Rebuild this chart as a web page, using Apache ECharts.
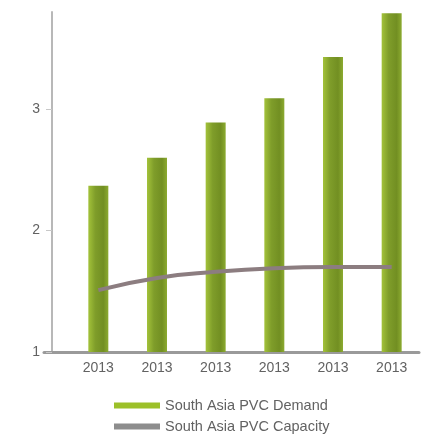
<!DOCTYPE html>
<html>
<head>
<meta charset="utf-8">
<script src="https://cdn.jsdelivr.net/npm/echarts@6/dist/echarts.min.js"></script>
<style>
  html, body { margin: 0; padding: 0; background: #ffffff; }
  #chart { width: 431px; height: 438px; }
</style>
</head>
<body>
<div id="chart"></div>
<script>
// Category labels along the x axis
var categories = ['2013', '2013', '2013', '2013', '2013', '2013'];
// South Asia PVC demand (bars)
var demandValues = [2.37, 2.60, 2.89, 3.09, 3.43, 3.79];
// South Asia PVC capacity (line)
var capacityValues = [1.51, 1.61, 1.66, 1.69, 1.70, 1.70];

var chart = echarts.init(document.getElementById('chart'));

var textColor = '#626262';
var fontFamily = '"Liberation Sans", Arial, sans-serif';

chart.setOption({
  backgroundColor: '#ffffff',
  animation: false,
  textStyle: { fontFamily: fontFamily },
  grid: [
    { left: 69, right: 10, top: 12, bottom: 86 },
    { left: 44, right: 12, top: 12, bottom: 86 }
  ],
  legend: {
    orient: 'vertical',
    left: 114,
    top: 398,
    height: 40,
    padding: 0,
    itemWidth: 46,
    itemHeight: 6,
    itemGap: 6,
    textStyle: { color: textColor, fontSize: 14.5, fontFamily: fontFamily },
    data: [
      { name: 'South Asia PVC Demand', icon: 'rect', itemStyle: { color: '#9cc029' } },
      { name: 'South Asia PVC Capacity', icon: 'rect', itemStyle: { color: '#8d8d8d' } }
    ]
  },
  xAxis: [
    {
      type: 'category',
      gridIndex: 0,
      data: categories,
      axisLine: { show: false },
      axisTick: { show: false },
      axisLabel: { color: textColor, fontSize: 14, margin: 9 }
    },
    {
      type: 'category',
      gridIndex: 1,
      data: categories,
      axisLine: { show: true, lineStyle: { color: '#9a9a9a', width: 3 } },
      axisTick: { show: false },
      axisLabel: { show: false }
    }
  ],
  yAxis: [
    {
      type: 'value',
      gridIndex: 0,
      min: 1,
      max: 3.8,
      interval: 1,
      offset: 17,
      axisLine: { show: true, lineStyle: { color: '#b8b8b8', width: 2 } },
      axisTick: { show: true, length: 6, lineStyle: { color: '#c8c8c8' } },
      axisLabel: { color: textColor, fontSize: 14, margin: 12, showMaxLabel: false },
      splitLine: { show: false }
    },
    {
      type: 'value',
      gridIndex: 1,
      min: 1,
      max: 3.8,
      show: false
    }
  ],
  series: [
    {
      name: 'South Asia PVC Demand',
      type: 'bar',
      xAxisIndex: 0,
      yAxisIndex: 0,
      barWidth: 20,
      data: demandValues,
      itemStyle: {
        color: new echarts.graphic.LinearGradient(0, 0, 1, 0, [
          { offset: 0, color: '#a3c23a' },
          { offset: 0.35, color: '#7f9d2a' },
          { offset: 0.75, color: '#728f22' },
          { offset: 1, color: '#8cab30' }
        ])
      },
      z: 2
    },
    {
      name: 'South Asia PVC Capacity',
      type: 'line',
      xAxisIndex: 0,
      yAxisIndex: 0,
      smooth: true,
      symbol: 'none',
      data: capacityValues,
      lineStyle: { color: '#8c7d80', width: 4 },
      itemStyle: { color: '#8d8d8d' },
      z: 3
    }
  ]
});
</script>
</body>
</html>
